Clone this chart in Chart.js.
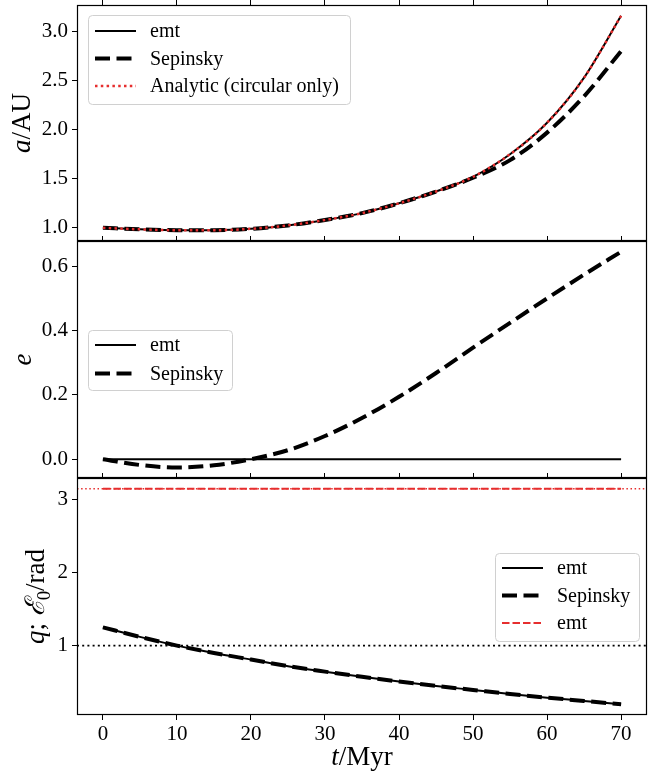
<!DOCTYPE html>
<html>
<head>
<meta charset="utf-8">
<script src="https://cdn.jsdelivr.net/npm/chart.js@4"></script>
<style>
  html, body { margin: 0; padding: 0; background: #fff; }
  #wrap { position: relative; width: 649px; height: 782px; overflow: hidden; }
  #wrap canvas { position: absolute; left: 0; }
</style>
</head>
<body>
<div id="wrap">
  <canvas id="panelA" width="649" height="243" style="top:0px"></canvas>
  <canvas id="panelE" width="649" height="244" style="top:236px"></canvas>
  <canvas id="panelQ" width="649" height="309" style="top:473px"></canvas>
</div>
<script>
// time in Myr
const tMyr = [0, 5, 10, 15, 20, 25, 30, 35, 40, 45, 50, 55, 60, 65, 70];

// semi-major axis a/AU
const aEmt      = [1.00, 0.985, 0.976, 0.976, 0.99, 1.025, 1.08, 1.15, 1.25, 1.37, 1.52, 1.75, 2.07, 2.53, 3.16];
const aSepinsky = [1.00, 0.985, 0.976, 0.976, 0.99, 1.025, 1.08, 1.15, 1.25, 1.37, 1.51, 1.69, 1.97, 2.34, 2.80];
const aAnalytic = [1.00, 0.985, 0.976, 0.976, 0.99, 1.025, 1.08, 1.15, 1.25, 1.37, 1.52, 1.75, 2.07, 2.53, 3.16];

// eccentricity e
const eEmt      = [0, 0, 0, 0, 0, 0, 0, 0, 0, 0, 0, 0, 0, 0, 0];
const eSepinsky = [0, -0.018, -0.026, -0.019, 0.0, 0.028, 0.072, 0.128, 0.194, 0.268, 0.347, 0.424, 0.500, 0.574, 0.645];

// mass ratio q and E0
const qEmt      = [1.25, 1.12, 1.00, 0.90, 0.81, 0.72, 0.645, 0.575, 0.51, 0.45, 0.395, 0.34, 0.29, 0.245, 0.20];
const qSepinsky = [1.25, 1.12, 1.00, 0.90, 0.81, 0.72, 0.645, 0.575, 0.51, 0.45, 0.395, 0.34, 0.29, 0.245, 0.20];
const e0Emt     = [3.1416, 3.1416, 3.1416, 3.1416, 3.1416, 3.1416, 3.1416, 3.1416, 3.1416, 3.1416, 3.1416, 3.1416, 3.1416, 3.1416, 3.1416];

// reference lines
const qOne = 1;
const e0Pi = Math.PI;

// axis limits and ticks
const xLimits = [-3.5, 73.5];
const aLimits = [0.866, 3.27];
const eLimits = [-0.0585, 0.6785];
const qLimits = [0.053, 3.289];
const xTicks = [0, 10, 20, 30, 40, 50, 60, 70];
const aTicks = [1.0, 1.5, 2.0, 2.5, 3.0];
const eTicks = [0.0, 0.2, 0.4, 0.6];
const qTicks = [1, 2, 3];

const RED = '#e62e2e';
const SERIF = '"Liberation Serif", "DejaVu Serif", serif';

function pts(xs, ys) { return xs.map((x, i) => ({x: x, y: ys[i]})); }

const styles = {
  emt:      {borderColor: '#000', borderWidth: 2, borderDash: []},
  sepinsky: {borderColor: '#000', borderWidth: 4, borderDash: [15, 6.5]},
  analytic: {borderColor: RED, borderWidth: 2.5, borderDash: [2.5, 3.3]},
  e0:       {borderColor: RED, borderWidth: 2, borderDash: [7.5, 3]},
  hOne:     {borderColor: '#000', borderWidth: 1.8, borderDash: [2, 3.2]},
  hPi:      {borderColor: RED, borderWidth: 1.4, borderDash: [1.5, 2.6]},
};

function line(label, data, style, order) {
  return Object.assign({label: label, data: data, pointRadius: 0, fill: false,
    cubicInterpolationMode: 'monotone', order: order}, style);
}

// draw text made of roman / italic / subscript parts
function richText(ctx, segs, size, x, y, rotate) {
  ctx.save();
  ctx.translate(x, y);
  if (rotate) ctx.rotate(-Math.PI / 2);
  ctx.fillStyle = '#000';
  ctx.textBaseline = 'alphabetic';
  ctx.textAlign = 'left';
  const fontOf = s => s[1] === 'i' ? 'italic ' + size + 'px ' + SERIF
                   : s[1] === 's' ? (size * 0.7) + 'px ' + SERIF
                   : size + 'px ' + SERIF;
  let total = 0;
  segs.forEach(s => { ctx.font = fontOf(s); total += ctx.measureText(s[0]).width; });
  let cx = -total / 2;
  segs.forEach(s => {
    ctx.font = fontOf(s);
    ctx.fillText(s[0], cx, s[1] === 's' ? size * 0.22 : 0);
    cx += ctx.measureText(s[0]).width;
  });
  ctx.restore();
}

const decor = {
  id: 'decor',
  afterDraw(chart, args, o) {
    const ctx = chart.ctx;
    const ca = chart.chartArea;
    // frame
    ctx.save();
    ctx.strokeStyle = '#000';
    ctx.lineWidth = 1.2;
    ctx.strokeRect(ca.left + 0.5, ca.top + 0.5, ca.right - ca.left - 1, ca.bottom - ca.top - 1);
    ctx.restore();
    // axis titles
    if (o.yTitle) richText(ctx, o.yTitle, 27, o.yTitleX, (ca.top + ca.bottom) / 2, true);
    if (o.xTitle) richText(ctx, o.xTitle, 27, (ca.left + ca.right) / 2, o.xTitleY, false);
    // legend box
    const L = o.legend;
    if (!L) return;
    const bx = ca.left + L.x, by = ca.top + L.y;
    ctx.save();
    ctx.beginPath();
    ctx.roundRect(bx + 0.5, by + 0.5, L.w, L.h, 4);
    ctx.fillStyle = 'rgba(255,255,255,0.85)';
    ctx.fill();
    ctx.strokeStyle = '#d0d0d0';
    ctx.lineWidth = 1;
    ctx.stroke();
    L.rows.forEach((r, i) => {
      const ry = by + L.first + i * L.gap;
      const st = styles[r[1]];
      ctx.beginPath();
      ctx.strokeStyle = st.borderColor;
      ctx.lineWidth = st.borderWidth;
      ctx.setLineDash(st.borderDash);
      ctx.moveTo(bx + 7, ry);
      ctx.lineTo(bx + 48, ry);
      ctx.stroke();
      ctx.setLineDash([]);
      ctx.fillStyle = '#000';
      ctx.font = '20px ' + SERIF;
      ctx.textBaseline = 'middle';
      ctx.fillText(r[0], bx + 62, ry + 1);
    });
    ctx.restore();
  }
};

function tickOpts(list, digits) {
  return {
    afterBuildTicks: s => { s.ticks = list.map(v => ({value: v})); },
    ticks: {color: '#000', padding: 4, font: {family: SERIF, size: 21},
            callback: v => digits == null ? String(v) : v.toFixed(digits)},
    grid: {display: true, drawOnChartArea: false, drawTicks: true, tickLength: 5, color: '#000', lineWidth: 1},
    border: {display: false}
  };
}

function yScale(lim, list, digits) {
  return Object.assign({type: 'linear', position: 'left', min: lim[0], max: lim[1],
    afterFit: s => { s.width = 77; s.paddingTop = 0; s.paddingBottom = 0; }}, tickOpts(list, digits));
}

function xTopScale() {
  const o = tickOpts(xTicks, null);
  o.ticks.display = false;
  return Object.assign({type: 'linear', position: 'top', min: xLimits[0], max: xLimits[1],
    afterFit: s => { s.height = 5; s.paddingLeft = 0; s.paddingRight = 0; }}, o);
}

function xBottomScale() {
  const o = tickOpts(xTicks, null);
  o.ticks.padding = 2;
  return Object.assign({type: 'linear', position: 'bottom', min: xLimits[0], max: xLimits[1],
    afterFit: s => { s.height = 67; s.paddingLeft = 0; s.paddingRight = 0; }}, o);
}

function baseOptions(scales, decorOpts, padBottom) {
  return {
    responsive: false,
    animation: false,
    devicePixelRatio: 1,
    layout: {padding: {left: 0, right: 2, top: 0, bottom: padBottom}},
    scales: scales,
    plugins: {legend: {display: false}, tooltip: {enabled: false}, decor: decorOpts}
  };
}

// panel a
new Chart(document.getElementById('panelA'), {
  type: 'line',
  data: {datasets: [
    line('Analytic (circular only)', pts(tMyr, aAnalytic), styles.analytic, 0),
    line('emt', pts(tMyr, aEmt), styles.emt, 1),
    line('Sepinsky', pts(tMyr, aSepinsky), styles.sepinsky, 2)
  ]},
  options: baseOptions({x: xTopScale(), y: yScale(aLimits, aTicks, 1)}, {
    yTitle: [['a', 'i'], ['/AU', 'r']], yTitleX: 30,
    legend: {x: 11, y: 10, w: 262, h: 89, first: 16, gap: 27.5,
             rows: [['emt', 'emt'], ['Sepinsky', 'sepinsky'], ['Analytic (circular only)', 'analytic']]}
  }, 2),
  plugins: [decor]
});

// panel e
new Chart(document.getElementById('panelE'), {
  type: 'line',
  data: {datasets: [
    line('emt', pts(tMyr, eEmt), styles.emt, 1),
    line('Sepinsky', pts(tMyr, eSepinsky), styles.sepinsky, 0)
  ]},
  options: baseOptions({x: xTopScale(), y: yScale(eLimits, eTicks, 1)}, {
    yTitle: [['e', 'i']], yTitleX: 31,
    legend: {x: 11, y: 89, w: 144, h: 60, first: 15, gap: 28.5,
             rows: [['emt', 'emt'], ['Sepinsky', 'sepinsky']]}
  }, 2),
  plugins: [decor]
});

// panel q / E0
new Chart(document.getElementById('panelQ'), {
  type: 'line',
  data: {datasets: [
    line('emt', pts(tMyr, e0Emt), styles.e0, 0),
    line('', pts(xLimits, [e0Pi, e0Pi]), styles.hPi, 1),
    line('emt', pts(tMyr, qEmt), styles.emt, 3),
    line('Sepinsky', pts(tMyr, qSepinsky), styles.sepinsky, 2),
    line('', pts(xLimits, [qOne, qOne]), styles.hOne, 4)
  ]},
  options: baseOptions({x: xBottomScale(), xTop: xTopScale(), y: yScale(qLimits, qTicks, null)}, {
    yTitle: [['q', 'i'], ['; ', 'r'], ['\u2130', 'i'], ['0', 's'], ['/rad', 'r']], yTitleX: 44,
    xTitle: [['t', 'i'], ['/Myr', 'r']], xTitleY: 765 - 473,
    legend: {x: 418, y: 75, w: 144, h: 88, first: 15, gap: 27.5,
             rows: [['emt', 'emt'], ['Sepinsky', 'sepinsky'], ['emt', 'e0']]}
  }, 0),
  plugins: [decor]
});
</script>
</body>
</html>
